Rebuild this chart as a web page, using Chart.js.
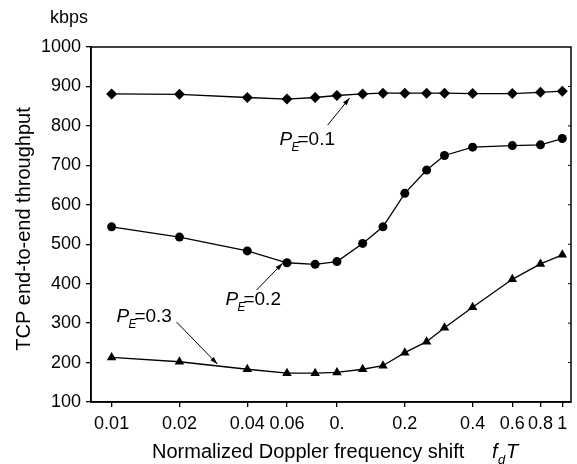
<!DOCTYPE html>
<html>
<head>
<meta charset="utf-8">
<script src="https://cdn.jsdelivr.net/npm/chart.js@4/dist/chart.umd.min.js"></script>
<style>
  body { margin: 0; background: #fff; }
  canvas { display: block; }
</style>
</head>
<body>
<canvas id="chart" width="577" height="464"></canvas>
<script>
// Data
const fdT = [0.01, 0.02, 0.04, 0.06, 0.08, 0.1, 0.13, 0.16, 0.2, 0.25, 0.3, 0.4, 0.6, 0.8, 1.0];
const pe01 = [881, 880, 872, 868, 872, 877, 881, 883, 883, 883, 883, 882, 882, 885, 888];
const pe02 = [544, 518, 483, 453, 449, 456, 502, 544, 629, 688, 725, 746, 750, 752, 768];
const pe03 = [213, 202, 183, 173, 173, 175, 183, 192, 225, 253, 288, 340, 411, 450, 473];

const xTicks = [0.01, 0.02, 0.04, 0.06, 0.1, 0.2, 0.4, 0.6, 0.8, 1];
const xTickLabels = ['0.01', '0.02', '0.04', '0.06', '0.', '0.2', '0.4', '0.6', '0.8', '1'];

// labels with arrows (data coords)
const notes = [
  { sub: 'E', val: '=0.1', x: 0.0556, y: 769, from: [0.0909, 802], to: [0.1139, 871] },
  { sub: 'E', val: '=0.2', x: 0.032, y: 364, from: [0.044, 384], to: [0.0574, 452] },
  { sub: 'E', val: '=0.3', x: 0.0105, y: 320, from: [0.0194, 303], to: [0.0295, 196] }
];

const FONT = '"Liberation Sans", Arial, sans-serif';

function toPoints(ys) {
  return fdT.map((x, i) => ({ x: x, y: ys[i] }));
}

function series(ys, style, r) {
  return {
    data: toPoints(ys),
    borderColor: '#000',
    backgroundColor: '#000',
    borderWidth: 1.3,
    pointStyle: style,
    pointRadius: r,
    pointBorderWidth: 0,
    tension: 0
  };
}

function arrow(ctx, x1, y1, x2, y2) {
  ctx.beginPath();
  ctx.moveTo(x1, y1);
  ctx.lineTo(x2, y2);
  ctx.stroke();
  const a = Math.atan2(y2 - y1, x2 - x1);
  ctx.beginPath();
  ctx.moveTo(x2, y2);
  ctx.lineTo(x2 - 8 * Math.cos(a - 0.3), y2 - 8 * Math.sin(a - 0.3));
  ctx.lineTo(x2 - 8 * Math.cos(a + 0.3), y2 - 8 * Math.sin(a + 0.3));
  ctx.closePath();
  ctx.fill();
}

const framePlugin = {
  id: 'frame',
  afterDraw(chart) {
    const ctx = chart.ctx;
    const area = chart.chartArea;
    const xs = chart.scales.x;
    const ys = chart.scales.y;
    ctx.save();
    ctx.strokeStyle = '#000';
    ctx.fillStyle = '#000';
    ctx.lineWidth = 1.5;
    ctx.strokeRect(area.left, area.top, area.right - area.left, area.bottom - area.top);

    // small inward ticks on the right side
    ctx.lineWidth = 1;
    for (let v = 200; v < 1000; v += 100) {
      const py = ys.getPixelForValue(v);
      ctx.beginPath();
      ctx.moveTo(area.right, py);
      ctx.lineTo(area.right - 3, py);
      ctx.stroke();
    }

    // unit
    ctx.font = '18px ' + FONT;
    ctx.textAlign = 'left';
    ctx.textBaseline = 'alphabetic';
    ctx.fillText('kbps', 50, 23);

    // y title
    ctx.save();
    ctx.translate(30, 229);
    ctx.rotate(-Math.PI / 2);
    ctx.font = '20px ' + FONT;
    ctx.textAlign = 'center';
    ctx.fillText('TCP end-to-end throughput', 0, 0);
    ctx.restore();

    // x title
    ctx.font = '20px ' + FONT;
    ctx.textAlign = 'left';
    ctx.fillText('Normalized Doppler frequency shift', 152, 458);
    ctx.font = 'italic 20px ' + FONT;
    ctx.fillText('f', 492, 458);
    ctx.font = 'italic 13px ' + FONT;
    ctx.fillText('d', 498, 464);
    ctx.font = 'italic 20px ' + FONT;
    ctx.fillText('T', 506, 458);

    // curve labels
    ctx.lineWidth = 1;
    notes.forEach(n => {
      const px = xs.getPixelForValue(n.x);
      const py = ys.getPixelForValue(n.y);
      ctx.font = 'italic 19px ' + FONT;
      ctx.fillText('P', px, py + 7);
      ctx.font = 'italic 12px ' + FONT;
      ctx.fillText(n.sub, px + 12, py + 13);
      ctx.font = '19px ' + FONT;
      ctx.fillText(n.val, px + 18, py + 7);
      arrow(ctx,
        xs.getPixelForValue(n.from[0]), ys.getPixelForValue(n.from[1]),
        xs.getPixelForValue(n.to[0]), ys.getPixelForValue(n.to[1]));
    });
    ctx.restore();
  }
};

new Chart(document.getElementById('chart'), {
  type: 'line',
  data: {
    datasets: [
      series(pe01, 'rectRot', 5.5),
      series(pe02, 'circle', 4.5),
      series(pe03, 'triangle', 5.5)
    ]
  },
  options: {
    responsive: false,
    animation: false,
    devicePixelRatio: 1,
    layout: { padding: { top: 47, right: 6, left: 0, bottom: 0 } },
    plugins: {
      legend: { display: false },
      tooltip: { enabled: false }
    },
    scales: {
      x: {
        type: 'logarithmic',
        min: 0.0081,
        max: 1.093,
        afterBuildTicks(scale) {
          scale.ticks = xTicks.map(v => ({ value: v }));
        },
        afterFit(scale) { scale.height = 62; },
        ticks: {
          autoSkip: false,
          maxRotation: 0,
          padding: 6,
          color: '#000',
          font: { family: FONT, size: 18 },
          callback(value) {
            const i = xTicks.indexOf(value);
            return i >= 0 ? xTickLabels[i] : '';
          }
        },
        grid: { drawOnChartArea: false, tickLength: 5, color: '#000', lineWidth: 1.3 },
        border: { color: '#000', width: 1.5 }
      },
      y: {
        min: 100,
        max: 1000,
        afterFit(scale) { scale.width = 91; },
        ticks: {
          stepSize: 50,
          padding: 5,
          color: '#000',
          font: { family: FONT, size: 18 },
          callback(value) { return value % 100 === 0 ? value : ''; }
        },
        grid: { drawOnChartArea: false, tickLength: 5, color: '#000', lineWidth: 1.3 },
        border: { color: '#000', width: 1.5 }
      }
    }
  },
  plugins: [framePlugin]
});
</script>
</body>
</html>
